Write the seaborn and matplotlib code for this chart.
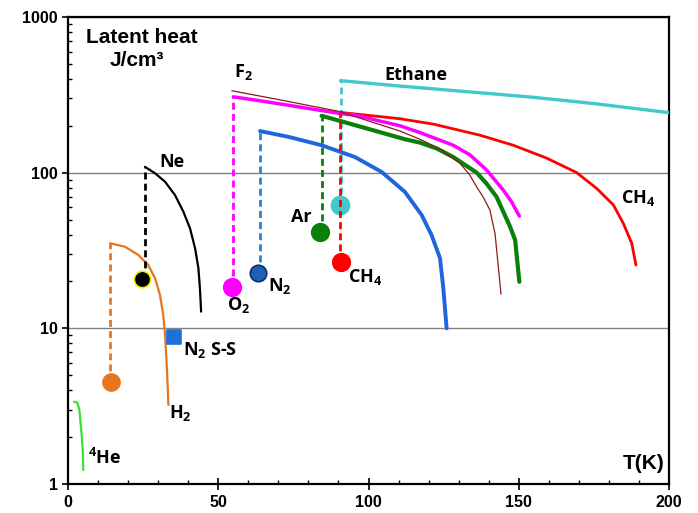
import numpy as np
import pandas as pd
import matplotlib
matplotlib.use("Agg")
import matplotlib.pyplot as plt
import seaborn as sns
from matplotlib.ticker import MultipleLocator, NullFormatter, LogLocator

# vaporisation curves, triple point -> critical point (T in K, latent heat in J/cm3)
he_T = [2.0, 3.1, 3.8, 4.2, 4.6, 4.9, 5.1]
he_L = [3.38, 3.33, 2.99, 2.45, 2.01, 1.65, 1.23]

h2_T = [14.0, 19.0, 23.4, 26.7, 29.0, 30.6, 31.7, 32.3, 32.8, 33.2, 33.4]
h2_L = [35.2, 33.4, 29.6, 25.5, 20.9, 16.4, 12.2, 9.06, 6.1, 4.12, 3.22]

ne_T = [25.6, 29.0, 32.3, 35.6, 38.4, 40.6, 42.3, 43.4, 43.9, 44.3]
ne_L = [109, 99, 87.4, 71.8, 56.1, 43.9, 32.6, 24.3, 18.1, 12.8]

o2_T = [55.0, 62.2, 75, 90.5, 95.5, 110.5, 117.1, 128.2, 133.8, 139.3, 144.9,
        147.6, 150.2]
o2_L = [307, 293, 268, 240, 234, 200, 181, 150, 130, 104, 77, 65, 52.6]

f2_T = [54.5, 70, 90, 110.5, 117.1, 123.8, 130.4, 133.5, 136.0, 138.3, 140.4,
        142.1, 143.2, 144.1]
f2_L = [336, 295, 248, 185, 164, 142, 115, 98, 81, 69, 57.5, 40.7, 24.9, 16.6]

n2_T = [63.9, 73.3, 84.4, 95.5, 104.4, 112.1, 117.7, 121.0, 123.8, 124.9, 126.0]
n2_L = [185, 170, 150, 126, 101, 75.3, 53.4, 39.7, 28.2, 18.1, 10.0]

ar_T = [84.4, 95.5, 112.1, 117.1, 122.7, 128.2, 136.0, 139.3, 142.6, 147.1,
        148.8, 150.2]
ar_L = [232, 202, 164, 156, 143, 126, 100, 85, 70, 45, 36.9, 19.9]

eth_T = [90.7, 110.5, 143.8, 154.8, 175, 200]
eth_L = [390, 360, 318, 305, 278, 243]

ch4_T = [90.5, 110.5, 121.6, 128.8, 137.1, 148.2, 159.3, 169.3, 175.9, 181.5,
         184.8, 187.6, 189.0]
ch4_L = [244, 222, 205, 190, 174, 150, 124, 100, 79.3, 62, 47.2, 35.2, 25.5]

# heat of fusion at the triple point
melt_names = ["H2", "Ne", "O2", "N2", "Ar", "Ethane", "CH4"]
melt_T = [14.2, 24.5, 54.5, 63.3, 83.9, 90.5, 90.9]
melt_L = [4.54, 20.6, 18.5, 22.8, 41.7, 62, 26.8]

# N2 solid-solid transition
ss_T = [35.4]
ss_L = [8.83]

sns.set_theme(style="white")
plt.rcParams['font.family'] = ['Liberation Sans', 'DejaVu Sans']
plt.rcParams['font.weight'] = 'bold'
plt.rcParams['mathtext.default'] = 'regular'
plt.rcParams['text.color'] = 'black'
plt.rcParams['xtick.color'] = 'black'
plt.rcParams['ytick.color'] = 'black'
plt.rcParams['lines.solid_joinstyle'] = 'round'

fig = plt.figure(figsize=(6.98, 5.13), dpi=100)
ax = fig.add_axes([68/698, 1-484/513, (669-68)/698, (484-17)/513])
ax.set_yscale("log")

dash_style = (0, (2.5, 1.5))


def curve(T, L, color, lw, z=3):
    sns.lineplot(x=T, y=L, color=color, lw=lw, sort=False, estimator=None,
                 ax=ax, zorder=z)


def fusion(T, L_melt, L_vap, color, z=3):
    sns.lineplot(x=[T, T], y=[L_melt, L_vap], color=color, lw=2.0,
                 linestyle=dash_style, sort=False, estimator=None, ax=ax, zorder=z)


def dot(T, L, color, edge=None, size=150, marker="o", z=5):
    sns.scatterplot(x=[T], y=[L], s=size, color=color, marker=marker,
                    edgecolor=edge if edge else color, linewidth=1.2, ax=ax, zorder=z)


curve(he_T, he_L, "#38e038", 1.6)

fusion(h2_T[0], melt_L[0], h2_L[0], "#e8761e")
curve(h2_T, h2_L, "#e8761e", 1.6)
dot(melt_T[0], melt_L[0], "#e8761e")

curve(ne_T, ne_L, "black", 1.6)
fusion(ne_T[0], melt_L[1], ne_L[0], "black")
dot(melt_T[1], melt_L[1], "black", edge="#f0f000", size=140)

dot(ss_T[0], ss_L[0], "#1f6fd6", marker="s", size=95)

curve(eth_T, eth_L, "#40c8cc", 2.4)
fusion(eth_T[0], melt_L[5], eth_L[0], "#40c8cc", z=3)
dot(melt_T[5], melt_L[5], "#40c8cc", size=170, z=3.5)

curve(n2_T, n2_L, "#1f66dd", 2.8)
fusion(n2_T[0], melt_L[3], n2_L[0], "#2a80d5")
dot(melt_T[3], melt_L[3], "#1e60b8", edge="#0d2c6e", size=140)

curve(ch4_T, ch4_L, "#ff0000", 2.0)
fusion(ch4_T[0], melt_L[6], ch4_L[0], "#ff0000", z=4)
dot(melt_T[6], melt_L[6], "#ff0000", size=160)

curve(ar_T, ar_L, "#0a7f0a", 3.0)
fusion(ar_T[0], melt_L[4], ar_L[0], "#0a7f0a")
dot(melt_T[4], melt_L[4], "#0a7f0a", size=160)

curve(o2_T, o2_L, "#ff00ff", 2.5)
fusion(o2_T[0], melt_L[2], o2_L[0], "#ff00ff")
dot(melt_T[2], melt_L[2], "#ff00ff", size=160)

curve(f2_T, f2_L, "#8b1a1a", 0.9, z=3.2)

# axes
ax.set_xlim(0, 200)
ax.set_ylim(1, 1000)
ax.set_xlabel("")
ax.set_ylabel("")
ax.set_xticks([0, 50, 100, 150, 200])
ax.xaxis.set_minor_locator(MultipleLocator(10))
ax.set_yticks([1, 10, 100, 1000], labels=["1", "10", "100", "1000"])
ax.yaxis.set_minor_locator(LogLocator(base=10, subs=np.arange(2, 10)))
ax.yaxis.set_minor_formatter(NullFormatter())
ax.tick_params(axis="x", which="major", direction="inout", length=8, width=1.2,
               pad=4, labelsize=11.5)
ax.tick_params(axis="x", which="minor", direction="in", length=3, width=1)
ax.tick_params(axis="y", which="major", direction="out", length=4.5, width=1.2,
               pad=3, labelsize=11.5)
ax.tick_params(axis="y", which="minor", direction="in", length=3, width=1, left=True)
ax.tick_params(axis="both", which="both", bottom=True, left=True, colors="black")

ax.yaxis.grid(True, which="major", color="#808080", lw=1.0)
ax.xaxis.grid(False)
ax.set_axisbelow(True)
for s in ax.spines.values():
    s.set_color("black")
    s.set_linewidth(1.6)

# text
head = dict(family=['Liberation Sans', 'DejaVu Sans'], weight="bold", fontsize=15)
ax.text(24.6, 738, "Latent heat", ha="center", va="center", **head)
ax.text(23, 529, "J/cm³", ha="center", va="center", **head)
ax.text(198.4, 1.36, "T(K)", ha="right", va="center", **head)

lab = dict(family=['Open Sans', 'DejaVu Sans'], weight="bold", fontsize=13,
           ha="center", va="center", color="black")
ax.text(34.5, 117.5, "Ne", **lab)
ax.text(58.3, 445, "F$_2$", **lab)
ax.text(115.8, 424, "Ethane", **lab)
ax.text(77.8, 52, "Ar", **lab)
ax.text(70.5, 18.6, "N$_2$", **lab)
ax.text(56.7, 14.1, "O$_2$", **lab)
ax.text(98.8, 21.4, "CH$_4$", **lab)
ax.text(189.8, 68.4, "CH$_4$", **lab)
ax.text(37.3, 2.85, "H$_2$", **lab)
ax.text(47.3, 7.26, "N$_2$ S-S", **lab)
ax.text(12.3, 1.46, "$^4$He", **lab)

fig.savefig("out.png", dpi=100)
